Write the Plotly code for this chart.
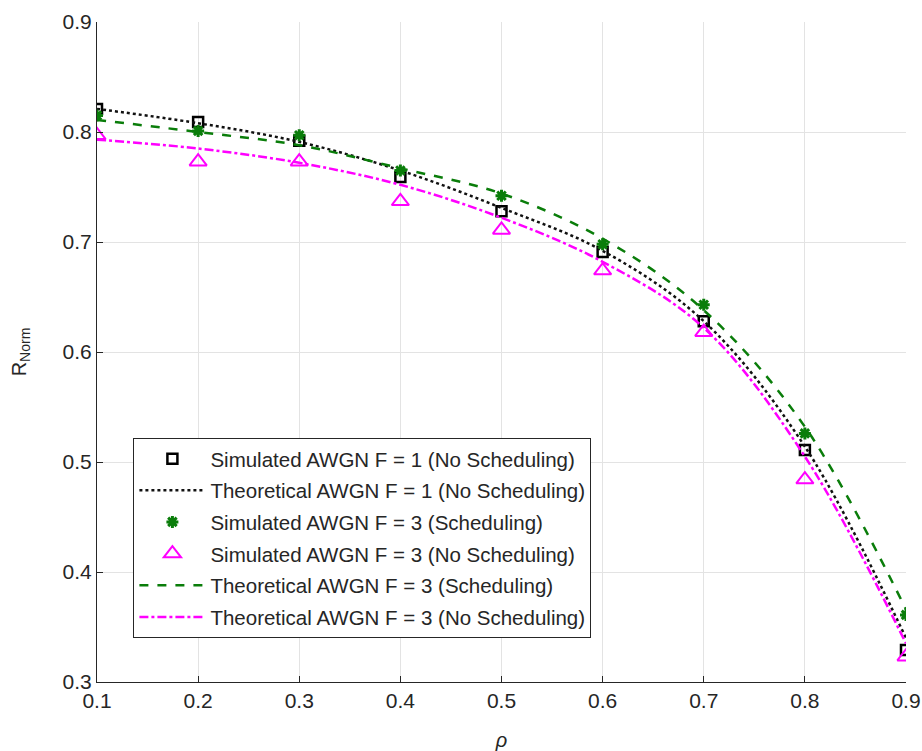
import plotly.graph_objects as go

rho = [0.1, 0.2, 0.3, 0.4, 0.5, 0.6, 0.7, 0.8, 0.9]

sim_f1_nosched = [0.821, 0.809, 0.792, 0.759, 0.728, 0.691, 0.628, 0.511, 0.329]
theo_f1_nosched = [0.821, 0.808, 0.791, 0.765, 0.731, 0.692, 0.628, 0.514, 0.340]
sim_f3_sched = [0.815, 0.801, 0.797, 0.765, 0.742, 0.698, 0.643, 0.526, 0.361]
sim_f3_nosched = [0.797, 0.773, 0.773, 0.737, 0.711, 0.674, 0.618, 0.484, 0.323]
theo_f3_sched = [0.811, 0.800, 0.788, 0.767, 0.744, 0.703, 0.638, 0.532, 0.366]
theo_f3_nosched = [0.793, 0.785, 0.772, 0.752, 0.722, 0.682, 0.622, 0.505, 0.335]

x_ticks = [0.1, 0.2, 0.3, 0.4, 0.5, 0.6, 0.7, 0.8, 0.9]
y_ticks = [0.3, 0.4, 0.5, 0.6, 0.7, 0.8, 0.9]

names = [
    "Simulated AWGN F = 1 (No Scheduling)",
    "Theoretical AWGN F = 1 (No Scheduling)",
    "Simulated AWGN F = 3 (Scheduling)",
    "Simulated AWGN F = 3 (No Scheduling)",
    "Theoretical AWGN F = 3 (Scheduling)",
    "Theoretical AWGN F = 3 (No Scheduling)",
]

GREEN = "#0a7d0a"
MAG = "#ff00ff"
FONT = "Liberation Sans, Arial, sans-serif"

fig = go.Figure()

fig.add_trace(go.Scatter(x=rho, y=sim_f1_nosched, mode="markers", name=names[0],
                         legendgroup="g1", legendrank=1,
                         marker=dict(symbol="square-open", size=10, color="black",
                                     line=dict(width=2.5, color="black"))))
fig.add_trace(go.Scatter(x=rho, y=theo_f1_nosched, mode="lines", name=names[1],
                         legendgroup="g2", legendrank=2, line_shape="spline",
                         line=dict(color="#111111", width=2.5, dash="dot")))
fig.add_trace(go.Scatter(x=rho, y=sim_f3_sched, mode="markers", name=names[2],
                         legendgroup="g3", legendrank=3,
                         marker=dict(symbol="asterisk-open", size=10, color=GREEN,
                                     line=dict(width=3, color=GREEN))))
fig.add_trace(go.Scatter(x=rho, y=sim_f3_nosched, mode="markers", name=names[3],
                         legendgroup="g4", legendrank=4,
                         marker=dict(symbol="triangle-up-open", size=15, color=MAG,
                                     line=dict(width=2, color=MAG))))
fig.add_trace(go.Scatter(x=rho, y=theo_f3_sched, mode="lines", name=names[4],
                         legendgroup="g5", legendrank=5, line_shape="spline",
                         line=dict(color=GREEN, width=2.5, dash="dash")))
fig.add_trace(go.Scatter(x=rho, y=theo_f3_nosched, mode="lines", name=names[5],
                         legendgroup="g6", legendrank=6, line_shape="spline",
                         line=dict(color=MAG, width=2.5, dash="dashdot")))

axis_common = dict(
    showgrid=True, gridcolor="#e3e3e3", gridwidth=1,
    showline=True, linecolor="#262626", linewidth=1,
    ticks="inside", ticklen=6, tickcolor="#262626",
    tickfont=dict(family=FONT, size=21, color="#262626"),
    zeroline=False, mirror=False, automargin=False,
)

fig.update_layout(
    width=922, height=751,
    paper_bgcolor="white", plot_bgcolor="white",
    margin=dict(l=97, r=16, t=22, b=69),
    font=dict(family=FONT, color="#262626"),
    xaxis=dict(range=[0.1, 0.9], tickvals=x_ticks, tickformat=".1f",
               title=dict(text="<i>ρ</i>", font=dict(size=20), standoff=21),
               **axis_common),
    yaxis=dict(range=[0.3, 0.9], tickvals=y_ticks, tickformat=".1f",
               title=dict(text="R<sub>Norm</sub>", font=dict(size=20), standoff=30),
               **axis_common),
    legend=dict(x=0.045, y=0.37, xanchor="left", yanchor="top",
                bgcolor="white", bordercolor="#262626", borderwidth=1,
                font=dict(family=FONT, size=20.5, color="#262626"),
                traceorder="grouped", tracegroupgap=2, itemwidth=66),
    showlegend=True,
)

fig.write_html("out.html", config={"displayModeBar": False},
               post_script="document.body.style.margin='0px';")
